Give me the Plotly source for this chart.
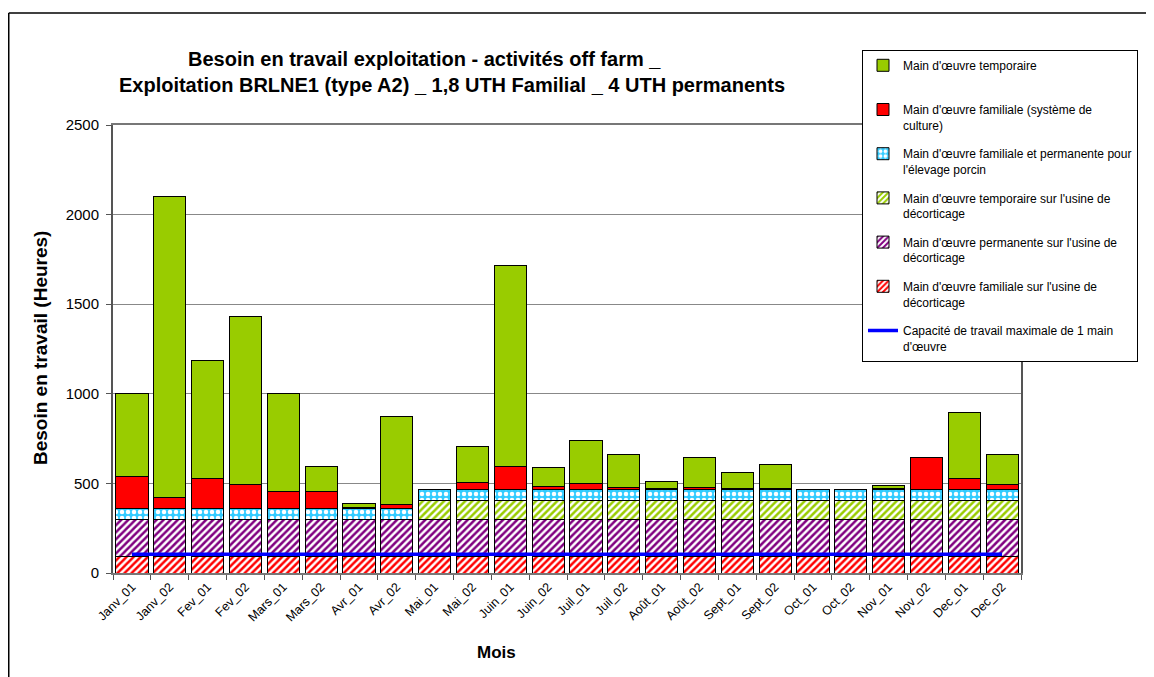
import plotly.graph_objects as go

months = ["Janv_01", "Janv_02", "Fev_01", "Fev_02", "Mars_01", "Mars_02", "Avr_01", "Avr_02",
          "Mai_01", "Mai_02", "Juin_01", "Juin_02", "Juil_01", "Juil_02", "Août_01", "Août_02",
          "Sept_01", "Sept_02", "Oct_01", "Oct_02", "Nov_01", "Nov_02", "Dec_01", "Dec_02"]

fam_usine = [90, 90, 90, 90, 90, 90, 90, 90, 90, 90, 90, 90,
             90, 90, 90, 90, 90, 90, 90, 90, 90, 90, 90, 90]
perm_usine = [210, 210, 210, 210, 210, 210, 210, 210, 210, 210, 210, 210,
              210, 210, 210, 210, 210, 210, 210, 210, 210, 210, 210, 210]
temp_usine = [0, 0, 0, 0, 0, 0, 0, 0, 106, 106, 106, 106,
              106, 106, 106, 106, 106, 106, 106, 106, 106, 106, 106, 106]
porcin = [60, 60, 60, 60, 60, 60, 60, 60, 60, 60, 60, 60,
          60, 60, 60, 60, 60, 60, 60, 60, 60, 60, 60, 60]
fam_culture = [181, 62, 165, 133, 96, 96, 5, 23, 0, 40, 131, 19,
               36, 12, 4, 12, 4, 4, 0, 0, 4, 181, 59, 27]
temporaire = [459, 1678, 660, 937, 544, 136, 25, 493, 0, 199, 1118, 101,
              236, 186, 42, 168, 90, 133, 0, 0, 19, 0, 372, 171]
capacite = [104, 104, 104, 104, 104, 104, 104, 104, 104, 104, 104, 104,
            104, 104, 104, 104, 104, 104, 104, 104, 104, 104, 104, 104]

names = {
    "fam_usine": "Main d'œuvre familiale sur l'usine de<br>décorticage",
    "perm_usine": "Main d'œuvre permanente sur l'usine de<br>décorticage",
    "temp_usine": "Main d'œuvre temporaire sur l'usine de<br>décorticage",
    "porcin": "Main d'œuvre familiale et permanente pour<br>l'élevage porcin",
    "fam_culture": "Main d'œuvre familiale (système de<br>culture)",
    "temporaire": "Main d'œuvre temporaire<br> ",
    "capacite": "Capacité de travail maximale de 1 main<br>d'œuvre",
}

FONT = "Arial, 'Liberation Sans', sans-serif"
line_black = dict(color="black", width=1)

# plot area in figure pixels
L, R, T, B = 105, 1013, 117, 565
W, H = 1154, 677
PW, PH = R - L, B - T


def px(x):
    return (x - L) / PW


def py(y):
    return (B - y) / PH


fig = go.Figure()


def add_bar(y, name, rank, color=None, pattern=None):
    marker = dict(line=line_black)
    if color is not None:
        marker["color"] = color
    if pattern is not None:
        marker["pattern"] = pattern
        marker["color"] = pattern.get("bgcolor", "white")
    fig.add_trace(go.Bar(x=months, y=y, name=name, marker=marker,
                         legendrank=rank, legendgroup=name))


add_bar(fam_usine, names["fam_usine"], 6,
        pattern=dict(shape="/", fgcolor="#FF0000", bgcolor="white", size=5, solidity=0.5, fillmode="replace"))
add_bar(perm_usine, names["perm_usine"], 5,
        pattern=dict(shape="/", fgcolor="#800080", bgcolor="white", size=5, solidity=0.5, fillmode="replace"))
add_bar(temp_usine, names["temp_usine"], 4,
        pattern=dict(shape="/", fgcolor="#99CC00", bgcolor="white", size=5, solidity=0.5, fillmode="replace"))
add_bar(porcin, names["porcin"], 3,
        pattern=dict(shape=".", fgcolor="white", bgcolor="#33CCFF", size=6, solidity=0.45, fillmode="replace"))
add_bar(fam_culture, names["fam_culture"], 2, color="#FF0000")
add_bar(temporaire, names["temporaire"], 1, color="#99CC00")

fig.add_trace(go.Scatter(x=months, y=capacite, mode="lines", name=names["capacite"],
                         line=dict(color="#0000FF", width=3.5), legendrank=7,
                         legendgroup="cap"))

title_l1 = "Besoin en travail exploitation - activités off farm _" + "&nbsp;" * 10
title_l2 = "Exploitation BRLNE1 (type A2) _ 1,8 UTH Familial _ 4 UTH permanents"

fig.update_layout(
    width=W, height=H,
    barmode="stack", bargap=0.15,
    paper_bgcolor="white", plot_bgcolor="white",
    margin=dict(l=L, r=W - R, t=T, b=H - B),
    font=dict(family=FONT, color="black"),
    title=dict(
        text="<b>" + title_l1 + "<br>" + title_l2 + "</b>",
        x=444 / W, xref="container", xanchor="center",
        y=1 - 58 / H, yref="container", yanchor="top",
        font=dict(size=20, family=FONT, color="black"),
    ),
    legend=dict(
        x=px(854), y=py(42), xanchor="left", yanchor="top",
        xref="paper", yref="paper",
        bgcolor="white", bordercolor="black", borderwidth=1,
        font=dict(size=12, family=FONT, color="black"),
        valign="top", tracegroupgap=10, traceorder="grouped",
    ),
    xaxis=dict(
        type="category", tickangle=-45, tickfont=dict(size=12.5),
        showline=True, linecolor="#777777", linewidth=1.5, mirror=True,
        ticks="outside", tickson="boundaries", ticklen=5, tickcolor="#555555",
        showgrid=False,
    ),
    yaxis=dict(
        range=[0, 2500], dtick=500, tickfont=dict(size=15),
        showline=True, linecolor="#555555", linewidth=2, mirror=True,
        ticks="outside", ticklen=5, tickcolor="#555555", ticklabelstandoff=4,
        showgrid=True, gridcolor="#888888", gridwidth=1,
        zeroline=False,
    ),
    annotations=[
        dict(text="<b>Mois</b>", x=px(488), y=py(644), xref="paper", yref="paper",
             xanchor="center", yanchor="middle", showarrow=False,
             font=dict(size=17, family=FONT, color="black")),
        dict(text="<b>Besoin en travail (Heures)</b>", x=px(32), y=py(340),
             xref="paper", yref="paper", textangle=-90,
             xanchor="center", yanchor="middle", showarrow=False,
             font=dict(size=19, family=FONT, color="black")),
    ],
    shapes=[
        dict(type="line", xref="paper", yref="paper",
             x0=px(0.75), x1=px(1200), y0=py(5), y1=py(5),
             line=dict(color="black", width=1.5)),
        dict(type="line", xref="paper", yref="paper",
             x0=px(0.75), x1=px(0.75), y0=py(5), y1=py(700),
             line=dict(color="black", width=1.5)),
    ],
)

fig.write_html("out.html")
